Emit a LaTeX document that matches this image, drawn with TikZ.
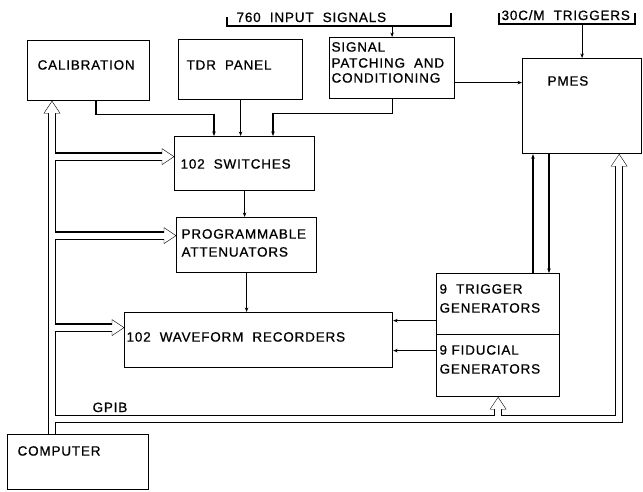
\documentclass[tikz,border=0pt]{standalone}
\usepackage{fontspec}
\newfontfamily\lettering[LetterSpace=6, FakeBold=0.8]{Liberation Sans}
\usetikzlibrary{arrows.meta}
\usetikzlibrary{calc}
\usetikzlibrary{backgrounds}

\begin{document}
\begin{tikzpicture}[x=1pt, y=-1pt, line width=1.2pt]
      \tikzstyle{lbl}  = [font=\lettering\fontsize{13.5}{18}\selectfont]
      \tikzstyle{dedge} = [-{Stealth[length=4.5pt,width=3.5pt]}]
      \tikzstyle{box}  = [lbl, draw, anchor=north west, inner sep=0pt, align=left]
      % width, height, left margin, first baseline
      \tikzset{size/.style n args={4}{minimum width=#1, minimum height=#2,
        inner xsep=#3, text width=#1-2*#3, text height=#4, text depth=#2-#4}}
      \tikzstyle{bushead} = [fill=white, draw=black, line join=miter]
      \useasboundingbox (0,0) rectangle (643,491);

      \node[box, size={122}{60}{10}{29}] (cal) at (27,40) {CALIBRATION};
      \node[box, size={124}{60}{8}{30}] (tdr) at (178,39) {TDR\ \ PANEL};
      \node[box, size={125}{61}{2}{14}] (sig) at (329,37)
        {SIGNAL\\[-2pt] PATCHING\ \ AND\\[-3pt] CONDITIONING};
      \node[box, size={119}{95}{25}{27}] (pmes) at (522,58) {PMES};
      \node[box, size={140}{54}{6}{32}] (sw) at (174,136) {102\ \ SWITCHES};
      \node[box, size={140}{55}{5}{21}] (att) at (176,217) {PROGRAMMABLE\\ ATTENUATORS};
      \node[box, size={268}{55}{2}{29}] (rec) at (124,312) {102\ \ WAVEFORM\ \ RECORDERS};
      \node[box, size={123}{61}{3}{20}] (trig) at (436,273) {9\ \ TRIGGER\\[1pt] GENERATORS};
      \node[box, size={123}{62}{3}{20}] (fid) at (436,334) {9 FIDUCIAL\\[1pt] GENERATORS};
      \node[box, size={141}{55}{10}{21}] (comp) at (7,434) {COMPUTER};

      \node[lbl, anchor=base west, inner sep=0pt] (inp) at (236,22) {760\ \ INPUT\ \ SIGNALS};
      \node[lbl, anchor=base west, inner sep=0pt] (trg) at (501,20) {30C/M\ \ TRIGGERS};
      \node[lbl, anchor=base west, inner sep=0pt] (gpibl) at (92,412) {GPIB};

      % input brackets
      \draw (227,17) -- (227,26) coordinate (inpl) -- (451,26) -- (451,13);
      \draw (499,13) -- (499,24) coordinate (trgl) -- (635,24) -- (635,13);

      % signal lines
      \draw[dedge] (sig.north |- inpl) -- (sig.north);
      \draw[dedge] (pmes.north |- trgl) -- (pmes.north);
      \draw[dedge] ([xshift=69pt]cal.south west) -- ++(0,13) -| ([xshift=40pt]sw.north west);
      \draw[dedge] (tdr.south) -- (tdr.south |- sw.north);
      \draw[dedge] (sig.south) -- ++(0,14) -| ([xshift=99pt]sw.north west);
      \draw[dedge] ([yshift=-14.5pt]sig.east) coordinate (s) -- (s -| pmes.west);
      \draw[dedge] (sw.south) -- (sw.south |- att.north);
      \draw[dedge] (att.south) -- (att.south |- rec.north);
      \draw[dedge] ([yshift=-16.5pt]trig.west) coordinate (t) -- (t -| rec.east);
      \draw[dedge] ([yshift=15pt]fid.west) coordinate (f) -- (f -| rec.east);
      \draw[dedge] ([xshift=11pt]pmes.south west) coordinate (p1) (p1 |- trig.north) -- (p1);
      \draw[dedge] ([xshift=27pt]pmes.south west) coordinate (p2) -- (p2 |- trig.north);

      % computer bus
      \coordinate (caltip) at ([xshift=25pt]cal.south west);
      \coordinate (swtip) at ([yshift=7pt]sw.west);
      \coordinate (atttip) at ([yshift=9.5pt]att.west);
      \coordinate (rectip) at ([yshift=12.5pt]rec.west);
      \coordinate (fidtip) at (fid.south);
      \coordinate (pmestip) at ([xshift=-23pt]pmes.south east);
      \coordinate (gpib) at ([yshift=15pt]comp.north);
      \tikzset{busline/.style={insert path={
        (caltip |- comp.north) -- ($(caltip)+(0,10)$)
        (caltip |- swtip) -- ($(swtip)+(-10,0)$)
        (caltip |- atttip) -- ($(atttip)+(-10,0)$)
        (caltip |- rectip) -- ($(rectip)+(-10,0)$)
        (caltip |- comp.north) |- (pmestip |- gpib) -- ($(pmestip)+(0,10)$)
        (fidtip |- gpib) -- ($(fidtip)+(0,10)$)
      }}}
      \begin{pgfonlayer}{background}
        \draw[line width=8.4pt, line join=miter, busline];
        \foreach \p/\a in {caltip/90, swtip/0, atttip/0, rectip/0, fidtip/90, pmestip/90}
          \draw[bushead, shift={(\p)}, rotate=\a] (0,0) -- (-12,-8) -- (-12,8) -- cycle;
        \draw[white, line width=6pt, line join=miter, busline];
      \end{pgfonlayer}
    \end{tikzpicture}
\end{document}
